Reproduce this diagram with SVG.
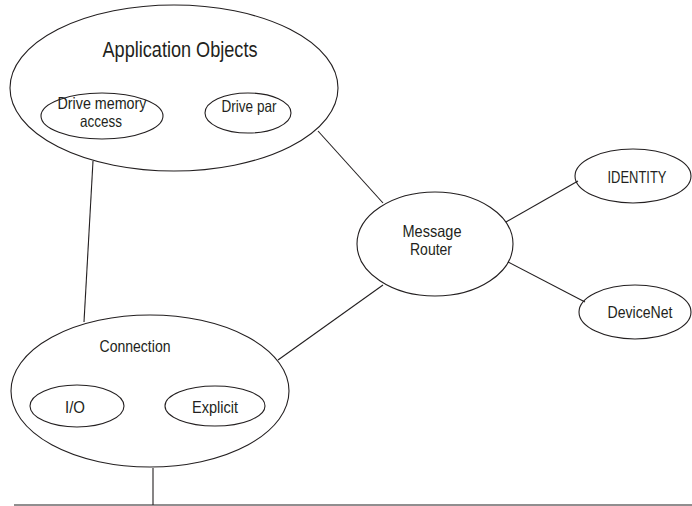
<svg xmlns="http://www.w3.org/2000/svg" width="692" height="506" viewBox="0 0 692 506">
<style>
.n{fill:none;stroke:#231f20;stroke-width:1.1}
.c{stroke:#231f20;stroke-width:1.1;fill:none}
text{font-family:"Liberation Sans",Arial,sans-serif;fill:#231f20;text-anchor:middle}
.t{font-size:16.5px}
.big{font-size:22px}
</style>
<rect width="692" height="506" fill="#fff"/>
<g id="connectors">
<line class="c" x1="93" y1="161" x2="84" y2="322"/>
<line class="c" x1="318" y1="131" x2="383" y2="203"/>
<line class="c" x1="506" y1="222" x2="578" y2="181"/>
<line class="c" x1="508" y1="262" x2="585" y2="302"/>
<line class="c" x1="383" y1="285" x2="278" y2="360"/>
<line class="c" x1="153" y1="468" x2="153" y2="505"/>
<line class="c" x1="14" y1="505" x2="692" y2="505"/>
</g>
<g id="app-objects">
<ellipse class="n" cx="174" cy="88" rx="164" ry="83"/>
<text class="big" x="180" y="57" textLength="155" lengthAdjust="spacingAndGlyphs">Application Objects</text>
</g>
<g id="drive-memory">
<ellipse class="n" cx="102" cy="116" rx="61" ry="23"/>
<text class="t" x="102" y="109" textLength="89" lengthAdjust="spacingAndGlyphs">Drive memory</text>
<text class="t" x="101" y="127" textLength="42" lengthAdjust="spacingAndGlyphs">access</text>
</g>
<g id="drive-par">
<ellipse class="n" cx="248" cy="113" rx="43" ry="20"/>
<text class="t" x="249" y="112" textLength="55" lengthAdjust="spacingAndGlyphs">Drive par</text>
</g>
<g id="message-router">
<ellipse class="n" cx="435" cy="244" rx="78" ry="52"/>
<text class="t" x="432" y="237" textLength="59" lengthAdjust="spacingAndGlyphs">Message</text>
<text class="t" x="431" y="255" textLength="42" lengthAdjust="spacingAndGlyphs">Router</text>
</g>
<g id="identity">
<ellipse class="n" cx="633" cy="176" rx="58" ry="27"/>
<text class="t" x="637" y="183" textLength="59" lengthAdjust="spacingAndGlyphs">IDENTITY</text>
</g>
<g id="devicenet">
<ellipse class="n" cx="635" cy="312" rx="56" ry="27"/>
<text class="t" x="640" y="318" textLength="65" lengthAdjust="spacingAndGlyphs">DeviceNet</text>
</g>
<g id="connection">
<ellipse class="n" cx="150" cy="391" rx="139" ry="76"/>
<text class="t" x="135" y="352" textLength="71" lengthAdjust="spacingAndGlyphs">Connection</text>
</g>
<g id="io">
<ellipse class="n" cx="77" cy="406" rx="47" ry="21"/>
<text class="t" x="75" y="413" textLength="20" lengthAdjust="spacingAndGlyphs">I/O</text>
</g>
<g id="explicit">
<ellipse class="n" cx="215" cy="406" rx="50" ry="20"/>
<text class="t" x="215" y="413" textLength="46" lengthAdjust="spacingAndGlyphs">Explicit</text>
</g>
</svg>
